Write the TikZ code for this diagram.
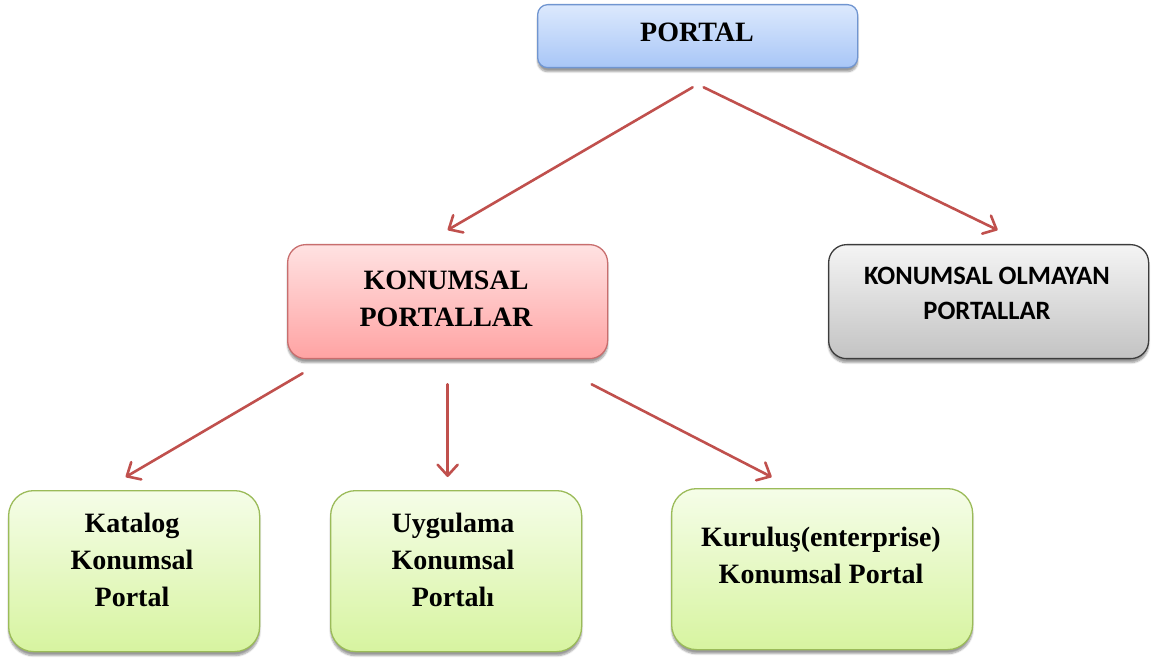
\documentclass[tikz,border=0pt]{standalone}
\usepackage{fontspec}
\setmainfont{Liberation Serif}
\newfontfamily\boxsans{Carlito}
\usetikzlibrary{arrows.meta,shadows.blur}

\definecolor{blueTop}{HTML}{DCE9FD}
\definecolor{blueBot}{HTML}{A8C6F7}
\definecolor{blueLine}{HTML}{7095D0}
\definecolor{redTop}{HTML}{FFE2E2}
\definecolor{redBot}{HTML}{FFA3A3}
\definecolor{redLine}{HTML}{C86E6E}
\definecolor{grayTop}{HTML}{F4F4F4}
\definecolor{grayBot}{HTML}{C3C3C3}
\definecolor{grayLine}{HTML}{3C3C3C}
\definecolor{greenTop}{HTML}{F5FDE8}
\definecolor{greenBot}{HTML}{D7F4A0}
\definecolor{greenLine}{HTML}{9BBB59}
\definecolor{linkRed}{HTML}{C0504D}

\begin{document}
\begin{tikzpicture}[x=1pt,y=-1pt,
  box/.style={draw, line width=1.3pt, anchor=north west, inner sep=0pt,
    blur shadow={shadow xshift=0pt, shadow yshift=-4pt, shadow blur steps=6, shadow opacity=40}},
  bluebox/.style={box, draw=blueLine, top color=blueTop, bottom color=blueBot, rounded corners=10pt},
  redbox/.style={box, draw=redLine, top color=redTop, bottom color=redBot, rounded corners=18pt},
  graybox/.style={box, draw=grayLine, top color=grayTop, bottom color=grayBot, rounded corners=18pt},
  greenbox/.style={box, draw=greenLine, top color=greenTop, bottom color=greenBot, rounded corners=25pt},
  serif/.style={align=center, inner sep=0pt, font=\bfseries\fontsize{28}{37}\selectfont},
  sans/.style={align=center, inner sep=0pt, font=\boxsans\bfseries\fontsize{26.5}{35}\selectfont},
  link/.style={draw=linkRed, line width=2.6pt, line cap=round,
    -{Straight Barb[length=11pt, width=20pt, round]}}]

\useasboundingbox (0,0) rectangle (1152,660);

% boxes
\node[bluebox, minimum width=320pt, minimum height=63pt] (portal) at (537,4) {};
\node[redbox, minimum width=320pt, minimum height=114pt] (kon) at (287,244) {};
\node[graybox, minimum width=320pt, minimum height=114pt] (nonkon) at (828,244) {};
\node[greenbox, minimum width=251pt, minimum height=161pt] (katalog) at (8,490) {};
\node[greenbox, minimum width=251pt, minimum height=161pt] (uygulama) at (330,490) {};
\node[greenbox, minimum width=301pt, minimum height=161pt] (kurulus) at (671,488) {};

% labels
\node[serif] (portal-t) at (697,32) {PORTAL};
\node[serif] (kon-t) at (446,299) {KONUMSAL\\PORTALLAR};
\node[sans] (nonkon-t) at (987,293) {KONUMSAL OLMAYAN\\PORTALLAR};
\node[serif] (katalog-t) at (132,560) {Katalog\\Konumsal\\Portal};
\node[serif] (uygulama-t) at (453,560) {Uygulama\\Konumsal\\Portalı};
\node[serif] (kurulus-t) at (821,555) {Kuruluş(enterprise)\\Konumsal Portal};

% connector ends
\coordinate (p-l) at ([xshift=-5pt, yshift=-19pt]portal.south);
\coordinate (p-r) at ([xshift=6pt, yshift=-19pt]portal.south);
\coordinate (kon-in) at ([yshift=14pt]kon.north);
\coordinate (nonkon-in) at ([xshift=9pt, yshift=14pt]nonkon.north);
\coordinate (k-l) at ([xshift=-145pt, yshift=-14pt]kon.south);
\coordinate (k-m) at ([yshift=-25pt]kon.south);
\coordinate (k-r) at ([xshift=144pt, yshift=-25pt]kon.south);
\coordinate (katalog-in) at ([xshift=-8.5pt, yshift=13pt]katalog.north);
\coordinate (uygulama-in) at ([xshift=-8.5pt, yshift=13pt]uygulama.north);
\coordinate (kurulus-in) at ([xshift=-50.5pt, yshift=11pt]kurulus.north);

% connectors
\draw[link] (p-l) -- (kon-in);
\draw[link] (p-r) -- (nonkon-in);
\draw[link] (k-l) -- (katalog-in);
\draw[link] (k-m) -- (uygulama-in);
\draw[link] (k-r) -- (kurulus-in);
\end{tikzpicture}
\end{document}
